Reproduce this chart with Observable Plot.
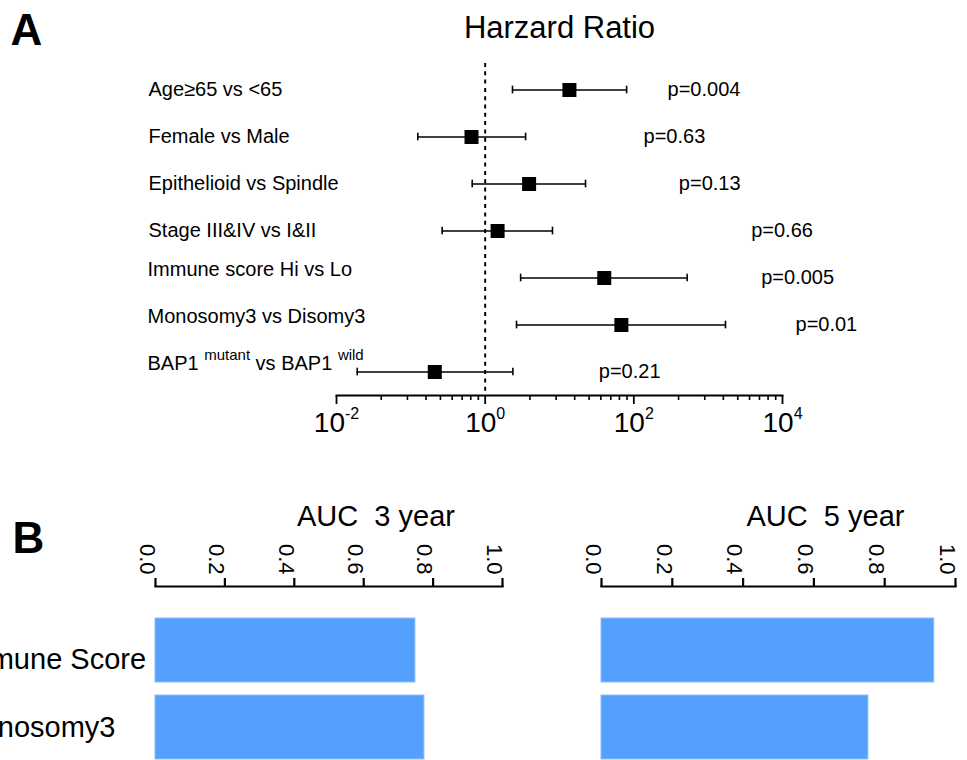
<!DOCTYPE html>
<html><head><meta charset="utf-8">
<script src="https://cdn.jsdelivr.net/npm/d3@7"></script>
<script src="https://cdn.jsdelivr.net/npm/@observablehq/plot@0.6"></script>
<style>
body{margin:0;background:#fff;}
#wrap{position:relative;width:967px;height:760px;overflow:hidden;background:#fff;}
#wrap svg{position:absolute;}
</style></head><body><div id="wrap"></div>
<script>
// ---- Panel A data (hazard ratios) ----
const factors = ["Age≥65 vs <65", "Female vs Male", "Epithelioid vs Spindle", "Stage III&IV vs I&II",
  "Immune score Hi vs Lo", "Monosomy3 vs Disomy3", "BAP1 ^{mutant} vs BAP1 ^{wild}"];
const hr     = [13.6, 0.655, 3.9, 1.47, 40, 68, 0.21];
const hrLow  = [2.33, 0.124, 0.67, 0.264, 3.0, 2.64, 0.019];
const hrHigh = [80, 3.5, 22.4, 8.05, 522, 1710, 2.36];
const pValues = ["p=0.004", "p=0.63", "p=0.13", "p=0.66", "p=0.005", "p=0.01", "p=0.21"];
const pLabelAt = [284, 135, 403, 3790, 5170, 14960, 33.8]; // anchor of each p label, in HR units
const majorTicks = [0.01, 1, 100, 10000];
const majorTickLabels = ["10^{-2}", "10^{0}", "10^{2}", "10^{4}"];
const minorTicks = [0.04, 0.09, 0.16, 0.25, 0.36, 0.49, 0.64, 0.81,
  4, 9, 16, 25, 36, 49, 64, 81, 400, 900, 1600, 2500, 3600, 4900, 6400, 8100];

// ---- Panel B data (AUC) ----
const aucModels = ["Immune Score", "Monosomy3"];
const auc3 = [0.749, 0.775];
const auc5 = [0.94, 0.754];
const aucTicks = [0, 0.2, 0.4, 0.6, 0.8, 1.0];

const FONT = "'Liberation Sans', Arial, Helvetica, sans-serif";
const baseStyle = {background: "transparent", fontFamily: FONT, color: "#000", overflow: "visible"};

function superscripts(svg) {
  d3.select(svg).selectAll("text").each(function () {
    const t = this.textContent;
    if (!t.includes("^{")) return;
    const big = t.startsWith("10^");
    const supSize = big ? 16 : 15, raise = big ? 13 : 10;
    const el = d3.select(this);
    el.text(null);
    let up = false;
    for (const p of t.split(/(\^\{[^}]*\})/)) {
      if (!p) continue;
      const m = p.match(/^\^\{(.*)\}$/);
      if (m) { el.append("tspan").attr("dy", -raise).attr("font-size", supSize).text(m[1]); up = true; }
      else { const s = el.append("tspan").text(p); if (up) s.attr("dy", raise); up = false; }
    }
  });
}

const rows = factors.map((f, i) => ({f, i, hr: hr[i], lo: hrLow[i], hi: hrHigh[i], p: pValues[i], px: pLabelAt[i]}));

const plotA = Plot.plot({
  width: 967, height: 460,
  marginLeft: 336, marginRight: 185, marginTop: 63, marginBottom: 65,
  style: baseStyle,
  x: {type: "log", domain: [0.01, 10000]},
  y: {type: "band", domain: factors, range: [64.33, 395.67], padding: 0, axis: null},
  marks: [
    Plot.ruleX([1], {stroke: "#000", strokeWidth: 2, strokeDasharray: "4,4.3"}),
    Plot.frame({anchor: "bottom", stroke: "#000", strokeWidth: 1.8}),
    Plot.axisX(majorTicks, {anchor: "bottom", tickSize: 9, strokeWidth: 1.8, tickFormat: () => "", label: null}),
    Plot.axisX(minorTicks, {anchor: "bottom", tickSize: 5, strokeWidth: 1.6, tickFormat: () => "", label: null}),
    Plot.text(majorTicks, {x: d => d, frameAnchor: "bottom", lineAnchor: "top", dy: 17,
      text: (d, i) => majorTickLabels[i], fontSize: 28}),
    Plot.ruleY(rows, {y: "f", x1: "lo", x2: "hi", stroke: "#000", strokeWidth: 1.6}),
    Plot.tickX(rows, {x: "lo", y: "f", insetTop: 19.67, insetBottom: 19.67, stroke: "#000", strokeWidth: 1.6}),
    Plot.tickX(rows, {x: "hi", y: "f", insetTop: 19.67, insetBottom: 19.67, stroke: "#000", strokeWidth: 1.6}),
    Plot.dot(rows, {x: "hr", y: "f", symbol: "square", r: 7.9, fill: "#000", stroke: null}),
    Plot.text(rows, {x: "px", y: "f", text: "p", textAnchor: "start", fontSize: 20}),
    Plot.text(rows.filter(d => d.i < 4), {y: "f", text: "f", frameAnchor: "left", dx: -188, textAnchor: "start", fontSize: 20}),
    Plot.text(rows.filter(d => d.i >= 4), {y: "f", text: "f", frameAnchor: "left", dx: -189, dy: -8, textAnchor: "start", fontSize: 20}),
    Plot.text(["Harzard Ratio"], {frameAnchor: "top", lineAnchor: "top", dy: -48, fontSize: 31}),
    Plot.text(["A"], {frameAnchor: "top-left", lineAnchor: "top", textAnchor: "start", dx: -326, dy: -50, fontSize: 44, fontWeight: "bold"})
  ]
});
superscripts(plotA);
plotA.style.left = "0px"; plotA.style.top = "0px";

function aucPlot(values, title, width, mLeft, mRight, withB) {
  const data = aucModels.map((m, i) => ({m, i, v: values[i]}));
  const marks = [
    Plot.barX(data, {x: "v", y: "m", fill: "#55A0FC", stroke: "#8cbefc", strokeWidth: 1}),
    Plot.frame({anchor: "top", stroke: "#000", strokeWidth: 2.2}),
    Plot.axisX(aucTicks, {anchor: "top", tickSize: 9, strokeWidth: 2.2, tickFormat: () => "", label: null}),
    Plot.text(aucTicks, {x: d => d, frameAnchor: "top", dy: -12, rotate: 90, textAnchor: "end",
      text: d => d.toFixed(1), fontSize: 22}),
    Plot.text([title], {frameAnchor: "top", lineAnchor: "top", dx: 47, dy: -81, fontSize: 29})
  ];
  if (withB) {
    marks.push(
      Plot.text(data.filter(d => d.i === 0), {y: "m", text: "m", frameAnchor: "left", dx: -mLeft - 43, dy: 9, textAnchor: "start", fontSize: 29}),
      Plot.text(data.filter(d => d.i === 1), {y: "m", text: "m", frameAnchor: "left", dx: -mLeft - 43, dy: 0, textAnchor: "start", fontSize: 29}),
      Plot.text(["B"], {frameAnchor: "top-left", lineAnchor: "top", textAnchor: "start", dx: -mLeft + 12, dy: -65, fontSize: 44, fontWeight: "bold"})
    );
  }
  return Plot.plot({
    width, height: 300,
    marginLeft: mLeft, marginRight: mRight, marginTop: 126, marginBottom: 0,
    style: baseStyle,
    x: {domain: [0, 1]},
    y: {type: "band", domain: aucModels, range: [144, 313], padding: 0.1667, axis: null},
    marks
  });
}
const plotB1 = aucPlot(auc3, "AUC\u00a0 3 year", 560, 155, 58, true);
plotB1.style.left = "0px"; plotB1.style.top = "460px";
const plotB2 = aucPlot(auc5, "AUC\u00a0 5 year", 407, 41, 12, false);
plotB2.style.left = "560px"; plotB2.style.top = "460px";

const wrap = document.getElementById("wrap");
wrap.append(plotA, plotB1, plotB2);
</script>
</body></html>
